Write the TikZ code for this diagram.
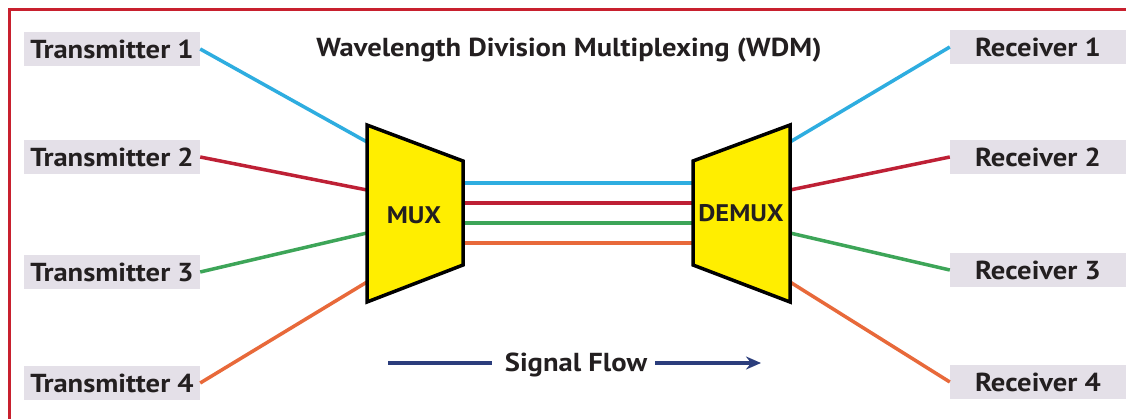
\documentclass[tikz,border=0pt]{standalone}
\usepackage{fontspec}
\setmainfont{PT Sans}[FakeStretch=1.1]
\usetikzlibrary{arrows.meta}
\definecolor{frame}{HTML}{C8202E}
\definecolor{boxgray}{HTML}{E4E0E8}
\definecolor{wcyan}{HTML}{2EADE0}
\definecolor{wred}{HTML}{BE2035}
\definecolor{wgreen}{HTML}{3DA558}
\definecolor{worange}{HTML}{E8693A}
\definecolor{navy}{HTML}{2B3D7C}
\definecolor{muxyellow}{HTML}{FFEE00}
\definecolor{txt}{HTML}{231F20}
\tikzset{
  lbl/.style={fill=boxgray, minimum width=176pt, minimum height=34pt, inner sep=0pt,
              text=txt, font=\fontsize{26}{28}\selectfont\bfseries},
  fiber/.style={line width=3.5pt},
  muxbox/.style={fill=muxyellow, draw=black, line width=3.5pt, line join=miter},
  plain/.style={text=txt, font=\fontsize{26}{28}\selectfont\bfseries, inner sep=0pt},
  muxlbl/.style={text=txt, font=\fontsize{24}{26}\selectfont\bfseries, inner sep=0pt}
}
\begin{document}
\begin{tikzpicture}[x=1pt,y=-1pt]
\useasboundingbox (0,0) rectangle (1126,419);
\fill[white] (0,0) rectangle (1126,419);
% frame
\draw[frame, line width=3pt] (9.5,419) -- (9.5,9.5) -- (1126,9.5);

% labels
\node[lbl] (t1) at (112,49) {Transmitter 1};
\node[lbl] (t2) at (112,157) {Transmitter 2};
\node[lbl] (t3) at (112,272) {Transmitter 3};
\node[lbl] (t4) at (112,383) {Transmitter 4};
\node[lbl] (r1) at (1038,47) {Receiver 1};
\node[lbl] (r2) at (1038,157) {Receiver 2};
\node[lbl] (r3) at (1038,270) {Receiver 3};
\node[lbl] (r4) at (1038,382) {Receiver 4};

\node[plain] (title) at (569,50) {Wavelength Division Multiplexing (WDM)};

% ports
\coordinate (mi1) at (367,142);
\coordinate (mi2) at (367,190);
\coordinate (mi3) at (367,233);
\coordinate (mi4) at (367,282);
\coordinate (mo1) at (463,183);
\coordinate (mo2) at (463,203);
\coordinate (mo3) at (463,223);
\coordinate (mo4) at (463,243);
\coordinate (di1) at (693,183);
\coordinate (di2) at (693,203);
\coordinate (di3) at (693,223);
\coordinate (di4) at (693,243);
\coordinate (do1) at (790,142);
\coordinate (do2) at (790,190);
\coordinate (do3) at (790,233);
\coordinate (do4) at (790,282);

% fibers
\draw[fiber, wcyan] (t1.east) -- (mi1);
\draw[fiber, wred] (t2.east) -- (mi2);
\draw[fiber, wgreen] (t3.east) -- (mi3);
\draw[fiber, worange] (t4.east) -- (mi4);
\draw[fiber, wcyan] (mo1) -- (di1);
\draw[fiber, wred] (mo2) -- (di2);
\draw[fiber, wgreen] (mo3) -- (di3);
\draw[fiber, worange] (mo4) -- (di4);
\draw[fiber, wcyan] (do1) -- (r1.west);
\draw[fiber, wred] (do2) -- (r2.west);
\draw[fiber, wgreen] (do3) -- (r3.west);
\draw[fiber, worange] (do4) -- (r4.west);

% MUX / DEMUX
\draw[muxbox] (367,125) -- (463,161) -- (463,265) -- (367,302) -- cycle;
\draw[muxbox] (693,161) -- (790,125) -- (790,302) -- (693,265) -- cycle;
\node[muxlbl] (mux) at (414,215) {MUX};
\node[muxlbl] (demux) at (741,213) {DEMUX};

% signal flow
\node[plain] (sf) at (576,365) {Signal Flow};
\coordinate (sfa) at (388,363);
\coordinate (sfb) at (492,363);
\coordinate (sfc) at (655,363);
\coordinate (sfd) at (761,363);
\draw[navy, line width=3.5pt] (sfa) -- (sfb);
\draw[navy, line width=3.5pt, -{Stealth[length=15pt,width=13pt,inset=5pt]}] (sfc) -- (sfd);
\end{tikzpicture}
\end{document}
